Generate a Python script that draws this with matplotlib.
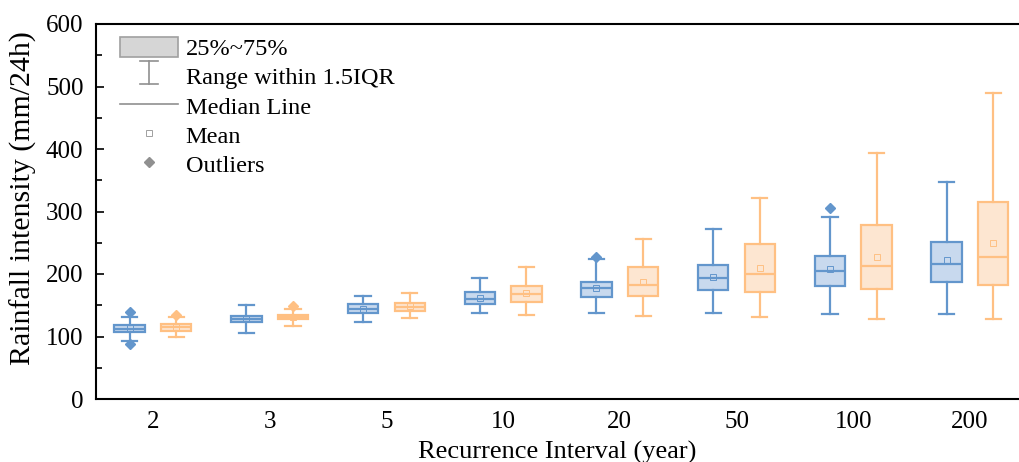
import matplotlib.pyplot as plt
from matplotlib.patches import Patch
from matplotlib.lines import Line2D
from matplotlib.legend_handler import HandlerBase

plt.rcParams['font.family'] = ['Liberation Serif', 'DejaVu Serif']

intervals = ['2', '3', '5', '10', '20', '50', '100', '200']

# series A (blue)
a_low = [93, 106, 124, 137, 138, 137, 135.5, 136]
a_q1 = [107, 123, 137, 152, 164, 174.5, 181, 188]
a_med = [112.5, 128, 143.5, 160, 177, 194, 205, 215.5]
a_q3 = [118, 133, 151.5, 170.5, 188, 214, 229, 251]
a_high = [131.5, 150, 165, 194, 223.5, 271.5, 290.5, 346.5]
a_mean = [113, 128, 144.5, 162, 177, 194.5, 207.5, 222]
a_fliers = [[138.5, 88], [], [], [], [227.5], [], [305], []]

# series B (orange)
b_low = [99.5, 117, 130, 134.5, 133, 130.5, 128.5, 127.5]
b_q1 = [109.5, 128, 141, 155.5, 165, 172, 176, 183]
b_med = [114.5, 131.5, 147.5, 168, 183, 199.5, 213, 227.5]
b_q3 = [120, 134.5, 153.5, 181, 210.5, 247.5, 278, 315.5]
b_high = [130.5, 144, 169, 211.5, 256, 321.5, 393.5, 489]
b_mean = [115, 131.5, 149, 169, 186.5, 209.5, 228, 249]
b_fliers = [[134], [148.5], [], [], [], [], [], []]

blue_edge, blue_face = '#6396CC', '#C8D9EE'
orange_edge, orange_face = '#FFC083', '#FDE6D1'


def make_stats(low, q1, med, q3, high, mean, fliers):
    return [dict(whislo=lo, q1=a, med=m, q3=b, whishi=hi, mean=mn, fliers=fl)
            for lo, a, m, b, hi, mn, fl in zip(low, q1, med, q3, high, mean, fliers)]


def draw(ax, stats, positions, edge, face):
    lw = 1.6
    ax.bxp(stats, positions=positions, widths=0.26, patch_artist=True,
           showmeans=True, capwidths=0.13,
           boxprops=dict(facecolor=face, edgecolor=edge, linewidth=lw),
           medianprops=dict(color=edge, linewidth=lw),
           whiskerprops=dict(color=edge, linewidth=lw),
           capprops=dict(color=edge, linewidth=lw),
           meanprops=dict(marker='s', markersize=4, markerfacecolor='none',
                          markeredgecolor=edge, markeredgewidth=0.7),
           flierprops=dict(marker='D', markersize=5.5, markerfacecolor=edge,
                           markeredgecolor=edge))


class RangeHandler(HandlerBase):
    def create_artists(self, legend, orig, xd, yd, w, h, fontsize, trans):
        cx = xd + w / 2
        lines = [Line2D([cx, cx], [yd - 1, yd + h + 1]),
                 Line2D([cx - w * 0.16, cx + w * 0.16], [yd + h + 1, yd + h + 1]),
                 Line2D([cx - w * 0.16, cx + w * 0.16], [yd - 1, yd - 1])]
        for ln in lines:
            ln.set_color('#909090')
            ln.set_linewidth(1.2)
            ln.set_transform(trans)
        return lines


fig = plt.figure(figsize=(10.19, 4.62), dpi=100)
ax = fig.add_axes([96 / 1019, 63 / 462, 923 / 1019, 375 / 462])

pos = list(range(len(intervals)))
draw(ax, make_stats(a_low, a_q1, a_med, a_q3, a_high, a_mean, a_fliers),
     [p - 0.2 for p in pos], blue_edge, blue_face)
draw(ax, make_stats(b_low, b_q1, b_med, b_q3, b_high, b_mean, b_fliers),
     [p + 0.2 for p in pos], orange_edge, orange_face)

ax.set_xlim(-0.488, 7.42)
ax.set_ylim(0, 600)
ax.set_xticks(pos)
ax.set_xticklabels(intervals)
ax.set_yticks(range(0, 601, 100))
ax.set_yticks(range(50, 600, 100), minor=True)
ax.tick_params(axis='y', which='both', direction='in', labelsize=18, width=1.2, pad=9)
ax.tick_params(axis='y', which='major', length=6)
ax.tick_params(axis='y', which='minor', length=4)
ax.tick_params(axis='x', length=0, labelsize=18, pad=9)
ax.spines['right'].set_visible(False)
for s in ['left', 'top', 'bottom']:
    ax.spines[s].set_linewidth(1.5)
ax.set_xlabel('Recurrence Interval (year)', fontsize=19, labelpad=5)
ax.set_ylabel('Rainfall intensity (mm/24h)', fontsize=21.5)
ax.yaxis.set_label_coords(-0.064, 0.537)

handles = [
    Patch(facecolor='#D6D6D6', edgecolor='#A0A0A0', linewidth=1.2),
    None,
    Line2D([], [], color='#909090', linewidth=1.2),
    Line2D([], [], linestyle='none', marker='s', markersize=4,
           markerfacecolor='none', markeredgecolor='#A0A0A0', markeredgewidth=0.7),
    Line2D([], [], linestyle='none', marker='D', markersize=5,
           markerfacecolor='#909090', markeredgecolor='#909090'),
]
range_handle = Line2D([], [])
handles[1] = range_handle
labels = ['25%~75%', 'Range within 1.5IQR', 'Median Line', 'Mean', 'Outliers']
ax.legend(handles, labels, loc='upper left', bbox_to_anchor=(0.018, 0.985),
          frameon=False, fontsize=17.5,
          handlelength=2.4, handleheight=0.9, labelspacing=0.23,
          borderaxespad=0, borderpad=0.3, handletextpad=0.3,
          handler_map={range_handle: RangeHandler()})

fig.savefig('out.png', dpi=100)
